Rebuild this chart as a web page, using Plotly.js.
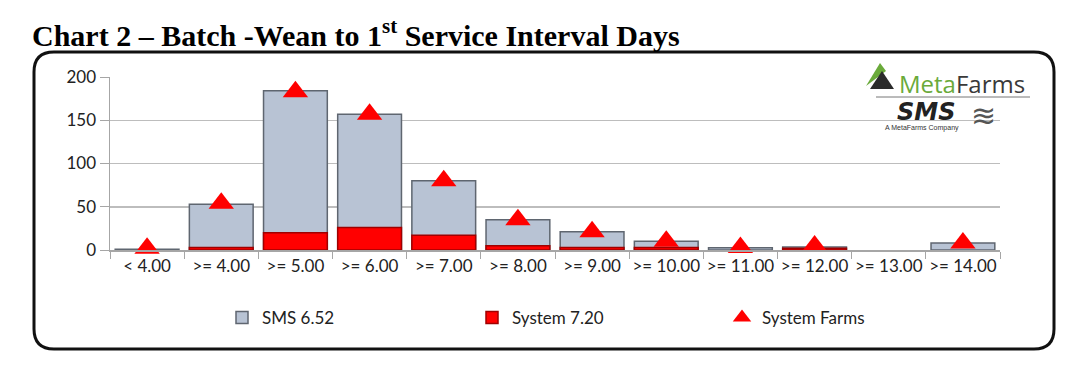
<!DOCTYPE html>
<html>
<head>
<meta charset="utf-8">
<script src="https://cdn.plot.ly/plotly-3.0.1.min.js"></script>
<style>
html,body{margin:0;padding:0;background:#fff;}
#chart{width:1080px;height:373px;}
</style>
</head>
<body>
<div id="chart"></div>
<script>
// ---- data ----
const categories = ["< 4.00", ">= 4.00", ">= 5.00", ">= 6.00", ">= 7.00", ">= 8.00", ">= 9.00", ">= 10.00", ">= 11.00", ">= 12.00", ">= 13.00", ">= 14.00"];
const smsValues = [1, 53, 184, 157, 80, 35, 21, 10, 2.5, 3.5, null, 8];
const systemValues = [null, 3, 20, 26, 17, 5, 3, 3, null, 2, null, null];
const systemFarms = [2, 54, 183, 157, 80, 35, 21, 10, 3, 4.5, null, 8];
const yTicks = [0, 50, 100, 150, 200];
const legendNames = ["SMS 6.52", "System 7.20", "System Farms"];

// ---- layout geometry ----
const W = 1080, H = 373;
const M = {l: 110, r: 80, t: 77, b: 123};
const pw = W - M.l - M.r, ph = H - M.t - M.b;
const px = x => (x - M.l) / pw;
const py = y => (H - M.b - y) / ph;

function roundRect(x0, y0, x1, y1, r) {
  const P = (x, y) => px(x).toFixed(5) + "," + py(y).toFixed(5);
  return "M" + P(x0 + r, y0) + " L" + P(x1 - r, y0) +
    " Q" + P(x1, y0) + " " + P(x1, y0 + r) +
    " L" + P(x1, y1 - r) +
    " Q" + P(x1, y1) + " " + P(x1 - r, y1) +
    " L" + P(x0 + r, y1) +
    " Q" + P(x0, y1) + " " + P(x0, y1 - r) +
    " L" + P(x0, y0 + r) +
    " Q" + P(x0, y0) + " " + P(x0 + r, y0) + " Z";
}

const font = "Lato, 'Open Sans', sans-serif";

const traces = [
  {
    type: "bar", name: legendNames[0], x: categories, y: smsValues,
    width: 0.86,
    marker: {color: "#b8c3d4", line: {color: "#5f6670", width: 1.5}},
    hoverinfo: "x+y"
  },
  {
    type: "bar", name: legendNames[1], x: categories, y: systemValues,
    width: 0.86,
    marker: {color: "#ff0000", line: {color: "#a00000", width: 1.5}},
    hoverinfo: "x+y"
  },
  {
    type: "scatter", mode: "markers", name: legendNames[2], x: categories, y: systemFarms,
    marker: {symbol: "triangle-up", size: 22, color: "#ff0000"},
    cliponaxis: false,
    hoverinfo: "x+y"
  }
];

const layout = {
  width: W, height: H,
  margin: M,
  paper_bgcolor: "#ffffff",
  plot_bgcolor: "#ffffff",
  barmode: "overlay",
  showlegend: true,
  title: {
    text: "Chart 2 – Batch -Wean to 1<sup>st</sup> Service Interval Days",
    font: {family: "'Liberation Serif', 'Times New Roman', serif", size: 30, color: "#000", weight: 700},
    x: 32 / W, xref: "container", xanchor: "left",
    y: 1 - 35 / H, yref: "container", yanchor: "middle"
  },
  xaxis: {
    type: "category",
    range: [-0.5, categories.length - 0.5],
    tickangle: 0,
    tickfont: {family: font, size: 17, color: "#222"},
    ticks: "outside", tickson: "boundaries", ticklen: 7, tickcolor: "#a6a6a6",
    showline: true, linecolor: "#a6a6a6", linewidth: 1.5,
    showgrid: false, fixedrange: true
  },
  yaxis: {
    range: [0, 200],
    tickvals: yTicks,
    tickfont: {family: font, size: 17, color: "#222"},
    ticks: "outside", ticklen: 9, tickcolor: "#a6a6a6",
    showline: true, linecolor: "#a6a6a6", linewidth: 1.5,
    gridcolor: "#bdbdbd", gridwidth: 1.5,
    zeroline: false, fixedrange: true
  },
  legend: {
    orientation: "h",
    x: px(222), xanchor: "left",
    y: py(318), yanchor: "middle",
    entrywidth: 205, entrywidthmode: "pixels",
    bgcolor: "rgba(0,0,0,0)",
    font: {family: font, size: 17, color: "#222"},
    itemwidth: 30,
    traceorder: "normal"
  },
  shapes: [
    {
      type: "path", xref: "paper", yref: "paper",
      path: roundRect(34, 52, 1054, 349, 20),
      line: {color: "#111", width: 3},
      fillcolor: "rgba(0,0,0,0)", layer: "below"
    },
    {
      type: "path", xref: "paper", yref: "paper",
      path: "M" + px(866) + "," + py(86) + " L" + px(880) + "," + py(63) + " L" + px(886) + "," + py(71) + " Z",
      fillcolor: "#6aaa3a", line: {width: 0}
    },
    {
      type: "path", xref: "paper", yref: "paper",
      path: "M" + px(870) + "," + py(89) + " L" + px(882) + "," + py(71) + " L" + px(894) + "," + py(89) + " Z",
      fillcolor: "#2b2b2b", line: {width: 0}
    },
    {
      type: "line", xref: "paper", yref: "paper",
      x0: px(876), x1: px(1030), y0: py(97), y1: py(97),
      line: {color: "#777", width: 1}
    }
  ],
  annotations: [
    {
      xref: "paper", yref: "paper", x: px(897), y: py(83), xanchor: "left", yanchor: "middle",
      text: "<span style='color:#6aaa3a'>Meta</span><span style='color:#3a3a3a'>Farms</span>",
      showarrow: false, font: {family: "'Open Sans', sans-serif", size: 24}
    },
    {
      xref: "paper", yref: "paper", x: px(926), y: py(112), xanchor: "center", yanchor: "middle",
      text: "<b><i>SMS</i></b>",
      showarrow: false, font: {family: "'DejaVu Sans', sans-serif", size: 24, color: "#222"}
    },
    {
      xref: "paper", yref: "paper", x: px(922), y: py(128), xanchor: "center", yanchor: "middle",
      text: "A MetaFarms Company",
      showarrow: false, font: {family: "'Liberation Sans Narrow', sans-serif", size: 7, color: "#333"}
    },
    {
      xref: "paper", yref: "paper", x: px(983), y: py(115), xanchor: "center", yanchor: "middle",
      text: "≋",
      showarrow: false, font: {family: "'DejaVu Sans', sans-serif", size: 30, color: "#555"}
    }
  ]
};

Plotly.newPlot("chart", traces, layout, {displayModeBar: false, staticPlot: true});
</script>
</body>
</html>
